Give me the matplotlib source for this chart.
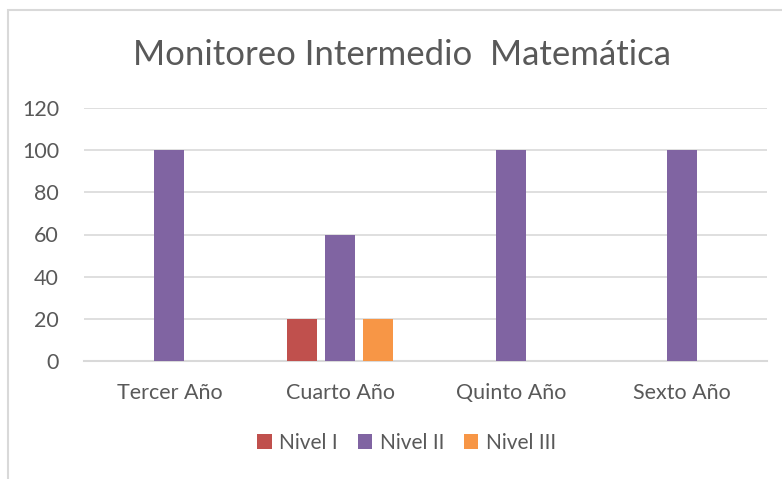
import numpy as np
import matplotlib.pyplot as plt
from matplotlib.patches import Rectangle

# donnees
categorias = ["Tercer Año", "Cuarto Año", "Quinto Año", "Sexto Año"]
series = ["Nivel I", "Nivel II", "Nivel III"]
nivel_1 = [0, 20, 0, 0]
nivel_2 = [100, 60, 100, 100]
nivel_3 = [0, 20, 0, 0]
yticks = [0, 20, 40, 60, 80, 100, 120]

colores = ["#C0504D", "#8064A2", "#F79646"]
gris = "#595959"

plt.rcParams['font.family'] = ['Lato', 'DejaVu Sans']

fig = plt.figure(figsize=(7.82, 4.79), dpi=100)
# cadre du graphique
fig.patches.append(Rectangle((8 / 782, -0.1), 1.0, 1 - 10 / 479 + 0.1,
                             transform=fig.transFigure, fill=False,
                             edgecolor="#D9D9D9", lw=1.5))

ax = fig.add_axes([84 / 782, 1 - 361 / 479, (767 - 84) / 782, (361 - 108) / 479])

x = np.arange(len(categorias))
larg = 0.176
pas = 0.2225
for k, (vals, nom) in enumerate(zip([nivel_1, nivel_2, nivel_3], series)):
    ax.bar(x + (k - 1) * pas, vals, larg, color=colores[k], label=nom, zorder=3)

ax.set_xlim(-0.5, len(categorias) - 0.5)
ax.set_ylim(0, 120)
ax.set_yticks(yticks)
ax.set_xticks(x)
ax.set_xticklabels(categorias)
ax.yaxis.grid(True, color="#D9D9D9", lw=1.2, zorder=0)
for s in ["top", "right", "left"]:
    ax.spines[s].set_visible(False)
ax.spines["bottom"].set_color("#D9D9D9")
ax.spines["bottom"].set_linewidth(1.5)
ax.tick_params(axis="both", length=0, labelsize=15.5, colors=gris)
ax.tick_params(axis="y", pad=18)
ax.tick_params(axis="x", pad=16)

fig.text(0.514, 1 - 55 / 479, "Monitoreo Intermedio  Matemática", ha="center",
         va="center", fontsize=25, color=gris)

fig.legend(loc="center", bbox_to_anchor=(0.52, 1 - 443 / 479), ncol=3,
           frameon=False, fontsize=15, labelcolor=gris, handlelength=0.7,
           handleheight=0.7, handletextpad=0.35, columnspacing=0.95)

fig.savefig("out.png", dpi=100)
